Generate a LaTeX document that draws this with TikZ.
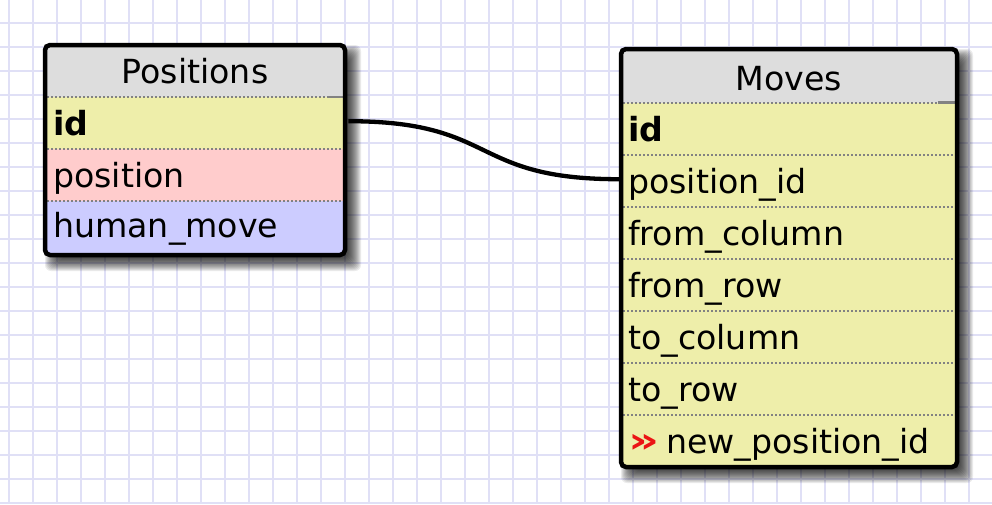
\documentclass[tikz,border=0pt]{standalone}
\usepackage{fontspec}
\setmainfont{DejaVu Sans}
\definecolor{gridc}{RGB}{224,224,246}
\definecolor{hdr}{RGB}{221,221,221}
\definecolor{yel}{RGB}{238,238,170}
\definecolor{pnk}{RGB}{255,204,204}
\definecolor{lav}{RGB}{204,204,255}
\definecolor{sep}{RGB}{130,130,130}
\definecolor{chev}{RGB}{235,20,20}
\tikzset{
  rowbox/.style={rectangle, draw=none, inner sep=0pt, anchor=north west},
  lbl/.style={inner sep=0pt, anchor=base west, font=\fontsize{33.2}{38}\selectfont},
  hlbl/.style={inner sep=0pt, anchor=base, font=\fontsize{33.2}{38}\selectfont},
  border/.style={draw=black, line width=4.5pt, rounded corners=5pt},
  dotsep/.style={draw=sep, line width=2pt, dash pattern=on 2pt off 2pt},
  solsep/.style={draw=sep, line width=2.2pt},
  conn/.style={draw=black, line width=4.3pt},
}
\newcommand{\mkshadow}[4]{%
  \foreach \s in {-4,...,10}{
    \fill[black, opacity=0.08, rounded corners=6pt]
      ({#1+6-\s},{#2+6-\s}) rectangle ({#3+6+\s},{#4+6+\s});
  }%
}
\begin{document}
\begin{tikzpicture}[x=1pt,y=-1pt]
\useasboundingbox (0,0) rectangle (992,504);
\fill[white] (0,0) rectangle (992,504);
% grid
\foreach \k in {0,...,41}{
  \draw[gridc, line width=2.4pt] ({9+24*\k},0) -- ({9+24*\k},504);
}
\foreach \k in {-1,...,20}{
  \draw[gridc, line width=2.4pt] (0,{22.7+24*\k}) -- (992,{22.7+24*\k});
}
% shadows
\begin{scope}
\clip (0,0) rectangle (992,504);
\mkshadow{49}{49}{345}{255}
\mkshadow{625}{53}{957}{467}
\end{scope}
% ---------- Positions table ----------
\begin{scope}
\clip[rounded corners=5pt] (45,45) rectangle (345,255);
\node[rowbox, fill=hdr, minimum width=300pt, minimum height=52pt] (phead) at (45,45) {};
\node[rowbox, fill=yel, minimum width=300pt, minimum height=52pt] (pid) at (45,97) {};
\node[rowbox, fill=pnk, minimum width=300pt, minimum height=52pt] (ppos) at (45,149) {};
\node[rowbox, fill=lav, minimum width=300pt, minimum height=54pt] (phm) at (45,201) {};
\end{scope}
\draw[dotsep] (47,97) -- (330,97);
\draw[solsep] (328,97) -- (344,97);
\draw[dotsep] (47,149) -- (344,149);
\draw[dotsep] (47,201) -- (344,201);
\node[hlbl] (pheadt) at (195,83.3) {Positions};
\node[lbl] (pidt) at (53,135) {\bfseries id};
\node[lbl] (ppost) at (53,187) {position};
\node[lbl] (phmt) at (53,237) {human\_move};
\draw[border] (45,45) rectangle (345,255);
% ---------- Moves table ----------
\begin{scope}
\clip[rounded corners=5pt] (621,49) rectangle (957,467);
\node[rowbox, fill=hdr, minimum width=336pt, minimum height=53.5pt] (mhead) at (621,49) {};
\node[rowbox, fill=yel, minimum width=336pt, minimum height=52pt] (mid) at (621,102.5) {};
\node[rowbox, fill=yel, minimum width=336pt, minimum height=52pt] (mpos) at (621,154.5) {};
\node[rowbox, fill=yel, minimum width=336pt, minimum height=52pt] (mfc) at (621,206.5) {};
\node[rowbox, fill=yel, minimum width=336pt, minimum height=52pt] (mfr) at (621,258.5) {};
\node[rowbox, fill=yel, minimum width=336pt, minimum height=52pt] (mtc) at (621,310.5) {};
\node[rowbox, fill=yel, minimum width=336pt, minimum height=52pt] (mtr) at (621,362.5) {};
\node[rowbox, fill=yel, minimum width=336pt, minimum height=52pt] (mnp) at (621,414.5) {};
\end{scope}
\draw[dotsep] (623,102.5) -- (939,102.5);
\draw[solsep] (938,102.5) -- (955,102.5);
\foreach \yy in {154.5,206.5,258.5,310.5,362.5,414.5}{
  \draw[dotsep] (623,\yy) -- (955,\yy);
}
\node[hlbl] (mheadt) at (789,90) {Moves};
\node[lbl] (midt) at (628,141) {\bfseries id};
\node[lbl] (mpost) at (628,193) {position\_id};
\node[lbl] (mfct) at (628,245) {from\_column};
\node[lbl] (mfrt) at (628,297) {from\_row};
\node[lbl] (mtct) at (628,349) {to\_column};
\node[lbl] (mtrt) at (628,401) {to\_row};
\node[lbl, text=chev] (mchev) at (628,452) {\scalebox{1.45}[1.05]{\bfseries »}};
\node[lbl] (mnpt) at (666,453) {new\_position\_id};
\draw[border] (621,49) rectangle (957,467);
% ---------- connector ----------
\draw[conn] ([xshift=3pt,yshift=2pt]pid.east) .. controls +(150,0) and +(-150,0) .. ([xshift=-2pt,yshift=1.5pt]mpos.west);
\end{tikzpicture}
\end{document}
